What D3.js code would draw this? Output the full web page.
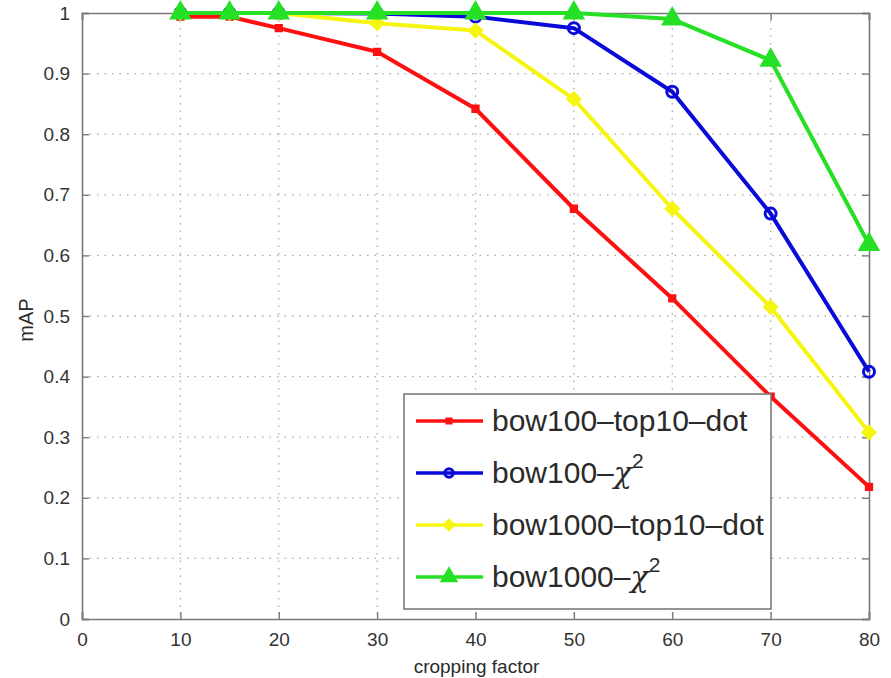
<!DOCTYPE html>
<html>
<head>
<meta charset="utf-8">
<title>mAP vs cropping factor</title>
<script src="https://d3js.org/d3.v7.min.js"></script>
<style>
  body { margin: 0; background: #fff; }
  text { font-family: "Liberation Sans", Arial, sans-serif; }
</style>
</head>
<body>
<div id="chart"></div>
<script>
// data
var cropping = [10, 15, 20, 30, 40, 50, 60, 70, 80];
var bow100Dot  = [0.994, 0.994, 0.975, 0.936, 0.842, 0.677, 0.529, 0.367, 0.218];
var bow100Chi  = [1.0, 1.0, 1.0, 0.999, 0.994, 0.975, 0.870, 0.669, 0.408];
var bow1000Dot = [1.0, 1.0, 1.0, 0.983, 0.971, 0.858, 0.677, 0.515, 0.308];
var bow1000Chi = [1.0, 1.0, 1.0, 1.0, 1.0, 1.0, 0.990, 0.922, 0.618];
var seriesNames = ["bow100\u2013top10\u2013dot", "bow100\u2013", "bow1000\u2013top10\u2013dot", "bow1000\u2013"];
var xTicks = [0, 10, 20, 30, 40, 50, 60, 70, 80];
var yTicks = [0, 0.1, 0.2, 0.3, 0.4, 0.5, 0.6, 0.7, 0.8, 0.9, 1];

var W = 891, H = 678;
var pLeft = 82, pRight = 869, pTop = 13, pBottom = 619;

var svg = d3.select("#chart").append("svg")
    .attr("width", W).attr("height", H);

var x = d3.scaleLinear().domain([0, 80]).range([pLeft, pRight]);
var y = d3.scaleLinear().domain([0, 1]).range([pBottom, pTop]);

var frameColor = "#7a7a7a";
var textColor = "#2a2a2a";

// grid
var grid = svg.append("g");
grid.selectAll(".gx").data(xTicks.slice(1, -1)).enter().append("line")
    .attr("x1", d => x(d)).attr("x2", d => x(d))
    .attr("y1", pTop).attr("y2", pBottom)
    .attr("stroke", "#aaaaaa").attr("stroke-width", 1.3)
    .attr("stroke-dasharray", "1.5,6");
grid.selectAll(".gy").data(yTicks.slice(1, -1)).enter().append("line")
    .attr("x1", pLeft).attr("x2", pRight)
    .attr("y1", d => y(d)).attr("y2", d => y(d))
    .attr("stroke", "#aaaaaa").attr("stroke-width", 1.3)
    .attr("stroke-dasharray", "1.5,6");

// axes (matlab style, ticks inside, on all sides)
var tl = 7;
var xAxisB = d3.axisBottom(x).tickValues(xTicks).tickSize(-tl).tickPadding(14).tickFormat(d3.format("d"));
var xAxisT = d3.axisTop(x).tickValues(xTicks).tickSize(-tl).tickFormat("");
var yAxisL = d3.axisLeft(y).tickValues(yTicks).tickSize(-tl).tickPadding(12)
    .tickFormat(d => d === 0 || d === 1 ? d3.format("d")(d) : d3.format(".1f")(d));
var yAxisR = d3.axisRight(y).tickValues(yTicks).tickSize(-tl).tickFormat("");

function styleAxis(g) {
  g.select(".domain").attr("stroke", frameColor).attr("stroke-width", 1.6);
  g.selectAll(".tick line").attr("stroke", frameColor).attr("stroke-width", 1.4);
  g.selectAll(".tick text").attr("fill", "#333").style("font-size", "19px");
}
svg.append("g").attr("transform", "translate(0," + pBottom + ")").call(xAxisB).call(styleAxis);
svg.append("g").attr("transform", "translate(0," + pTop + ")").call(xAxisT).call(styleAxis);
svg.append("g").attr("transform", "translate(" + pLeft + ",0)").call(yAxisL).call(styleAxis);
svg.append("g").attr("transform", "translate(" + pRight + ",0)").call(yAxisR).call(styleAxis);

// axis titles
svg.append("text").attr("x", (pLeft + pRight) / 2 + 1).attr("y", 673)
    .attr("text-anchor", "middle").attr("fill", textColor)
    .style("font-size", "19px").text("cropping factor");
svg.append("text").attr("transform", "translate(33,320) rotate(-90)")
    .attr("text-anchor", "middle").attr("fill", textColor)
    .style("font-size", "20px").text("mAP");

// series
var diamond = d3.symbolDiamond2 || d3.symbolDiamond;
var series = [
  { name: seriesNames[0], values: bow100Dot,  color: "#ff1010", symbol: d3.symbolSquare,   size: 28,  fill: true },
  { name: seriesNames[1], values: bow100Chi,  color: "#0a0ad8", symbol: d3.symbolCircle,   size: 95,  fill: false, chi: true },
  { name: seriesNames[2], values: bow1000Dot, color: "#f5f510", symbol: diamond,           size: 90,  fill: true },
  { name: seriesNames[3], values: bow1000Chi, color: "#26e026", symbol: d3.symbolTriangle, size: 130, fill: true, chi: true }
];

var line = d3.line().x(d => x(d[0])).y(d => y(d[1]));

series.forEach(function(s) {
  var pts = cropping.map((c, i) => [c, s.values[i]]);
  var g = svg.append("g");
  g.append("path").datum(pts).attr("d", line)
      .attr("fill", "none").attr("stroke", s.color)
      .attr("stroke-width", 4).attr("stroke-linejoin", "round");
  g.selectAll("path.m").data(pts).enter().append("path")
      .attr("class", "m")
      .attr("transform", d => "translate(" + x(d[0]) + "," + y(d[1]) + ")")
      .attr("d", d3.symbol().type(s.symbol).size(s.size))
      .attr("fill", s.fill ? s.color : "none")
      .attr("stroke", s.color).attr("stroke-width", 3);
});

// legend
var lg = svg.append("g");
lg.append("rect").attr("x", 404).attr("y", 394).attr("width", 367).attr("height", 215)
    .attr("fill", "#fff").attr("stroke", frameColor).attr("stroke-width", 1.6);
series.forEach(function(s, i) {
  var ly = 421 + i * 52;
  lg.append("line").attr("x1", 416).attr("x2", 483).attr("y1", ly).attr("y2", ly)
      .attr("stroke", s.color).attr("stroke-width", 3.5);
  lg.append("path").attr("transform", "translate(449," + ly + ")")
      .attr("d", d3.symbol().type(s.symbol).size(s.size * 0.6))
      .attr("fill", s.fill ? s.color : "none")
      .attr("stroke", s.color).attr("stroke-width", 3);
  var t = lg.append("text").attr("x", 492).attr("y", ly + 10)
      .attr("fill", textColor).style("font-size", "30px").text(s.name);
  if (s.chi) {
    t.append("tspan").style("font-style", "italic").attr("font-family", "DejaVu Serif").text("\u03c7");
    t.append("tspan").attr("dy", -15).style("font-size", "21px").text("2");
  }
});
</script>
</body>
</html>
